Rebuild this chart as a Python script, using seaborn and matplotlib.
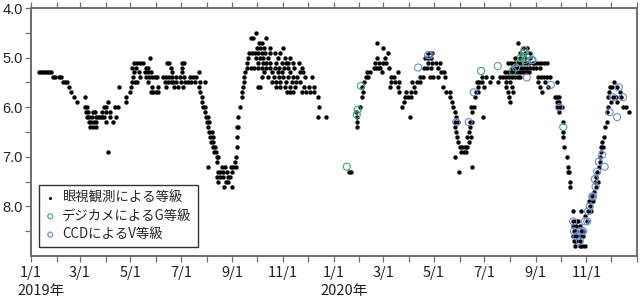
import numpy as np
import pandas as pd
import matplotlib
matplotlib.use("Agg")
import matplotlib.pyplot as plt
import matplotlib.dates as mdates
import seaborn as sns

sns.set_theme(style="white")
plt.rcParams["font.family"] = ["Noto Sans CJK JP", "DejaVu Sans"]

START = pd.Timestamp("2019-01-01")
END = pd.Timestamp("2021-01-01")

# ---------------- data (days since 2019-01-01, magnitude) ----------------
# visual estimates, 2019 Jan-Apr
vis_days_19a = [10, 12, 14, 17, 19, 22, 24, 27, 29, 34, 36, 39, 41, 43, 46, 48, 52, 55,
                65, 65, 68, 66, 69, 75, 77, 68, 70, 74, 78, 81, 70, 72, 76, 78, 71, 75, 78,
                83, 86, 93, 88, 90, 101, 105, 86, 90, 95, 88, 95, 103, 90, 99, 106, 93,
                115, 115, 119]
vis_mags_19a = [5.3, 5.3, 5.3, 5.3, 5.3, 5.3, 5.3, 5.4, 5.4, 5.4, 5.4, 5.5, 5.5, 5.5, 5.6, 5.7, 5.8, 5.9,
                5.8, 6.0, 6.0, 6.1, 6.1, 6.1, 6.1, 6.2, 6.2, 6.2, 6.2, 6.2, 6.3, 6.3, 6.3, 6.3, 6.4, 6.4, 6.4,
                6.2, 6.2, 5.9, 6.0, 6.0, 6.0, 6.0, 6.1, 6.1, 6.1, 6.2, 6.2, 6.2, 6.3, 6.3, 5.6, 6.9,
                5.8, 5.9, 5.7]

# 2019 Apr-Jul plateau (magnitude level -> days)
vis_levels_19b = [5.0, 5.1, 5.2, 5.3, 5.4, 5.5, 5.6, 5.7]
vis_rows_19b = [
    [144],
    [124, 128, 131, 135, 164, 166, 182, 185],
    [122, 127, 139, 141, 169, 182],
    [124, 130, 137, 141, 145, 170, 182, 203],
    [123, 131, 139, 142, 146, 150, 152, 159, 163, 166, 170, 175, 180, 185, 192, 195, 199],
    [122, 125, 128, 141, 162, 165, 169, 171, 175, 181, 186, 189, 193, 198, 204, 210],
    [121, 146, 153, 163, 172, 177, 183],
    [145, 147, 151, 153],
]

# 2019 Jul-Sep fade and recovery
vis_days_19c = [203, 204, 206, 206, 208, 210, 210, 211, 213, 212, 215, 214, 215, 218, 216, 219,
                217, 220, 219, 222, 221, 223, 224, 226,
                213, 224, 226, 228, 230, 224, 228, 226, 232, 234, 232, 236, 238, 235, 240, 241,
                242, 244, 242, 238, 246, 247, 233,
                247, 248, 248, 248, 250, 250, 252, 254, 255, 256, 257, 257, 258, 260, 261, 262,
                263, 266, 265, 268, 271]
vis_mags_19c = [5.6, 5.7, 5.8, 5.9, 6.0, 6.0, 6.1, 6.2, 6.2, 6.3, 6.3, 6.4, 6.5, 6.5, 6.6, 6.6,
                6.7, 6.7, 6.8, 6.8, 6.9, 6.9, 7.0, 7.0,
                7.2, 7.1, 7.3, 7.3, 7.2, 7.4, 7.4, 7.5, 7.3, 7.2, 7.4, 7.3, 7.4, 7.5, 7.4, 7.2,
                7.3, 7.2, 7.6, 7.5, 7.1, 7.2, 7.6,
                7.0, 6.8, 6.6, 6.4, 6.4, 6.2, 6.0, 5.8, 5.7, 5.6, 5.5, 5.4, 5.3, 5.2, 5.1, 5.0,
                4.9, 4.9, 4.6, 4.6, 4.5]

# 2019 Sep-Dec maximum
vis_levels_19d = [4.6, 4.7, 4.8, 4.9, 5.0, 5.1, 5.2, 5.3, 5.4, 5.5, 5.6, 5.7, 5.8, 6.0, 6.2]
vis_rows_19d = [
    [283],
    [275, 279],
    [273, 276, 281, 288, 304],
    [270, 274, 279, 282, 288, 294, 300],
    [271, 276, 280, 286, 298, 306, 312],
    [274, 280, 283, 288, 295, 303, 308, 310, 316, 323],
    [265, 269, 274, 279, 283, 288, 294, 299, 305, 310, 317, 327],
    [281, 291, 298, 303, 312, 324, 328],
    [279, 286, 293, 299, 304, 310, 316, 321, 330, 339],
    [291, 295, 300, 308, 315, 320, 324],
    [274, 276, 295, 300, 306, 312, 318, 329, 335, 341],
    [309, 312, 316, 327, 332, 336, 341],
    [346],
    [347],
    [346, 356],
]

# 2020 Jan-May
vis_days_20a = [384, 386, 392, 393, 397, 393, 393, 399, 399, 400, 402, 404, 406, 405, 409,
                414, 416, 418, 421, 420, 425, 417, 427, 431, 425, 417, 423, 434, 438, 434,
                439, 444, 433, 443, 443, 444, 428, 432, 415,
                447, 450, 455, 451, 452, 457, 458, 463, 458, 462, 460, 466, 469, 469, 473]
vis_mags_20a = [7.3, 7.3, 6.1, 6.2, 6.0, 6.3, 6.4, 5.6, 5.8, 5.7, 5.5, 5.4, 5.4, 5.3, 5.3,
                5.2, 5.2, 5.2, 5.2, 5.1, 5.1, 5.0, 5.0, 4.9, 4.8, 4.7, 5.3, 5.4, 5.4, 5.5,
                5.5, 5.5, 5.6, 5.6, 5.3, 5.7, 5.1, 5.2, 5.1,
                6.0, 5.9, 5.8, 5.8, 5.7, 6.2, 5.7, 5.7, 5.8, 5.6, 5.5, 5.5, 5.5, 5.4, 5.4]

# 2020 May-Jun maximum and dip
vis_levels_20b = [4.9, 5.0, 5.1, 5.2, 5.3, 5.4, 5.6, 5.7, 5.8, 5.9, 6.0, 6.1, 6.2, 6.3,
                  6.4, 6.5, 6.6, 6.7, 6.8, 6.9, 7.0, 7.2, 7.3]
vis_rows_20b = [
    [479, 484], [475, 479, 482], [479, 484, 488, 493], [474, 478, 482, 491], [494, 498],
    [481, 485, 491, 499], [497], [500, 505], [505], [508], [509], [511], [513],
    [511, 515], [511], [513], [514], [515], [517, 520, 523, 526], [519, 522, 525],
    [511], [532], [516],
]
vis_days_20c = [528, 526, 531, 528, 529, 529, 532, 532, 531, 534, 535, 537, 539, 539, 538, 541, 545]
vis_mags_20c = [6.7, 6.6, 6.6, 6.5, 6.4, 6.3, 6.3, 6.1, 6.0, 6.0, 5.8, 5.7, 5.7, 5.6, 5.5, 5.5, 6.2]

# 2020 Jul-Oct maximum
vis_levels_20d = [4.7, 4.8, 4.9, 5.0, 5.1, 5.2, 5.3, 5.4, 5.5, 5.6, 5.7, 5.8, 5.9, 6.0, 6.1]
vis_rows_20d = [
    [587],
    [593, 598],
    [590, 596, 602],
    [584, 590, 596, 602],
    [575, 579, 583, 586, 590, 594, 597, 601, 605, 608, 612, 615, 619, 623],
    [580, 584, 587, 591, 595, 598, 602, 606, 609, 614],
    [572, 575, 579, 583, 586, 590, 594, 597, 601],
    [544, 549, 556, 566, 569, 573, 576, 580, 584, 587, 590, 611, 615, 619, 622, 626],
    [544, 554, 563, 573, 578, 611, 620, 634],
    [546, 573, 580, 614, 624],
    [575, 581, 617],
    [576, 632, 634, 637],
    [578, 634, 637],
    [634, 638, 640],
    [637],
]

# 2020 Oct-Dec deep minimum and recovery
vis_days_20e = [642, 642, 642, 643, 646, 648, 648, 649, 650, 650]
vis_mags_20e = [6.3, 6.5, 6.6, 6.8, 7.0, 7.2, 7.3, 7.3, 7.5, 7.6]
vis_levels_20f = [8.1, 8.3, 8.4, 8.5, 8.6, 8.7, 8.8]
vis_rows_20f = [
    [654, 663], [654, 657, 660], [654, 657, 662], [655, 658, 663, 666],
    [654, 658, 662, 666], [655, 658, 662], [656, 662, 665, 668],
]
vis_days_20g = [668, 672, 674, 673, 677, 679, 680, 681, 683, 685, 686, 687, 687, 689, 691,
                693, 695, 695, 696, 696, 697, 698, 701, 703, 707, 710, 712, 714, 718, 721,
                707, 706, 702, 700, 681, 684, 678, 675, 671, 686, 690]
vis_mags_20g = [8.2, 8.1, 8.0, 7.9, 7.8, 7.7, 7.5, 7.4, 7.3, 7.2, 7.1, 6.9, 6.8, 6.7, 6.6,
                6.4, 6.3, 6.1, 6.0, 5.8, 5.7, 5.6, 5.6, 5.5, 5.6, 5.7, 5.8, 6.0, 6.0, 6.1,
                5.9, 5.8, 5.8, 5.9, 7.6, 7.5, 7.9, 8.1, 8.3, 7.0, 6.8]

# digital camera G magnitudes
dslr_days = [381, 394, 393, 398, 543, 591, 595, 601, 604, 596, 590, 581, 642]
dslr_mags = [7.2, 6.05, 6.15, 5.57, 5.27, 5.0, 4.9, 4.95, 5.05, 5.05, 5.1, 5.27, 6.4]

# CCD V magnitudes
ccd_days = [467, 479, 481, 513, 528, 534, 563, 595, 605, 597, 585, 598, 627, 637, 654,
            655, 658, 663, 668, 672, 674, 678, 681, 683, 685, 689, 692, 698, 707, 702,
            709, 714, 662, 666, 671, 677, 680]
ccd_mags = [5.2, 4.95, 4.95, 6.3, 6.3, 5.7, 5.17, 4.85, 5.05, 5.1, 5.2, 5.4, 5.55, 6.0, 8.3,
            8.5, 8.6, 8.5, 8.3, 8.1, 8.0, 7.8, 7.6, 7.3, 7.1, 6.96, 7.2, 6.1, 6.2, 5.8,
            5.6, 5.8, 8.7, 8.5, 8.3, 7.8, 7.45]

tick_dates = ["2019-01-01", "2019-03-01", "2019-05-01", "2019-07-01", "2019-09-01", "2019-11-01",
              "2020-01-01", "2020-03-01", "2020-05-01", "2020-07-01", "2020-09-01", "2020-11-01"]
tick_labels = ["1/1", "3/1", "5/1", "7/1", "9/1", "11/1",
               "1/1", "3/1", "5/1", "7/1", "9/1", "11/1"]
year_dates = ["2019-01-01", "2020-01-01"]
year_labels = ["2019年", "2020年"]
mag_ticks = [4.0, 5.0, 6.0, 7.0, 8.0]
legend_labels = ["眼視観測による等級", "デジカメによるG等級", "CCDによるV等級"]


# ---------------- build frames ----------------
def flatten_levels(levels, rows):
    d, m = [], []
    for lv, row in zip(levels, rows):
        d.extend(row)
        m.extend([lv] * len(row))
    return d, m


def frame(days, mags):
    return pd.DataFrame({"date": START + pd.to_timedelta(np.array(days, float), unit="D"),
                         "mag": mags})


parts = [
    (vis_days_19a, vis_mags_19a),
    flatten_levels(vis_levels_19b, vis_rows_19b),
    (vis_days_19c, vis_mags_19c),
    flatten_levels(vis_levels_19d, vis_rows_19d),
    (vis_days_20a, vis_mags_20a),
    flatten_levels(vis_levels_20b, vis_rows_20b),
    (vis_days_20c, vis_mags_20c),
    flatten_levels(vis_levels_20d, vis_rows_20d),
    (vis_days_20e, vis_mags_20e),
    flatten_levels(vis_levels_20f, vis_rows_20f),
    (vis_days_20g, vis_mags_20g),
]
vis = pd.concat([frame(d, m) for d, m in parts], ignore_index=True)
dslr = frame(dslr_days, dslr_mags)
ccd = frame(ccd_days, ccd_mags)

# ---------------- plot ----------------
fig = plt.figure(figsize=(6.4, 3.0), dpi=100)
ax = fig.add_axes([31 / 640, 44 / 300, 606 / 640, 248 / 300])

green = "#3aa86c"
blue = "#6a8ccf"

sns.scatterplot(data=vis, x="date", y="mag", ax=ax, color="black", s=10,
                linewidth=0, label=legend_labels[0], zorder=2)
sns.scatterplot(data=dslr, x="date", y="mag", ax=ax, color=green, facecolor="none",
                edgecolor=green, s=26, linewidth=0.8, label=legend_labels[1], zorder=3)
sns.scatterplot(data=ccd, x="date", y="mag", ax=ax, color=blue, facecolor="none",
                edgecolor=blue, s=26, linewidth=0.8, label=legend_labels[2], zorder=4)

ax.set_xlim(START, END)
ax.set_ylim(9.0, 4.0)
ax.set_xlabel("")
ax.set_ylabel("")

ax.set_xticks(pd.to_datetime(tick_dates))
ax.set_xticklabels(tick_labels)
ax.xaxis.set_minor_locator(mdates.MonthLocator())
ax.set_yticks(mag_ticks)
ax.set_yticklabels([f"{v:.1f}" for v in mag_ticks])
ax.set_yticks(np.arange(4.5, 9.0, 1.0), minor=True)

frame_col = "#6e6e6e"
for sp in ax.spines.values():
    sp.set_color(frame_col)
    sp.set_linewidth(1.4)
ax.tick_params(axis="x", which="both", top=True, bottom=True, direction="out",
               length=4, width=0.9, color=frame_col, labelsize=10.5, pad=3,
               labelcolor="#222222")
ax.tick_params(axis="y", which="both", left=True, right=False, direction="out",
               length=4, width=0.9, color=frame_col, labelsize=10.5, pad=2,
               labelcolor="#222222")
for lab in ax.get_yticklabels():
    lab.set_family(["Liberation Sans", "DejaVu Sans"])

for d, t in zip(year_dates, year_labels):
    ax.annotate(t, xy=(pd.Timestamp(d), 0), xycoords=("data", "axes fraction"),
                xytext=(-9.5, -25.5), textcoords="offset points",
                ha="left", va="center", fontsize=10.5, color="#222222")

leg = ax.legend(loc="lower left", bbox_to_anchor=(0.013, 0.036), borderaxespad=0,
                frameon=True, fancybox=False, framealpha=1, edgecolor="#333333",
                fontsize=9.6, handlelength=0.8, handletextpad=0.5, labelspacing=0.32,
                borderpad=0.45, markerscale=0.7)
leg.get_frame().set_linewidth(1.0)

fig.savefig("out.png", dpi=100)
